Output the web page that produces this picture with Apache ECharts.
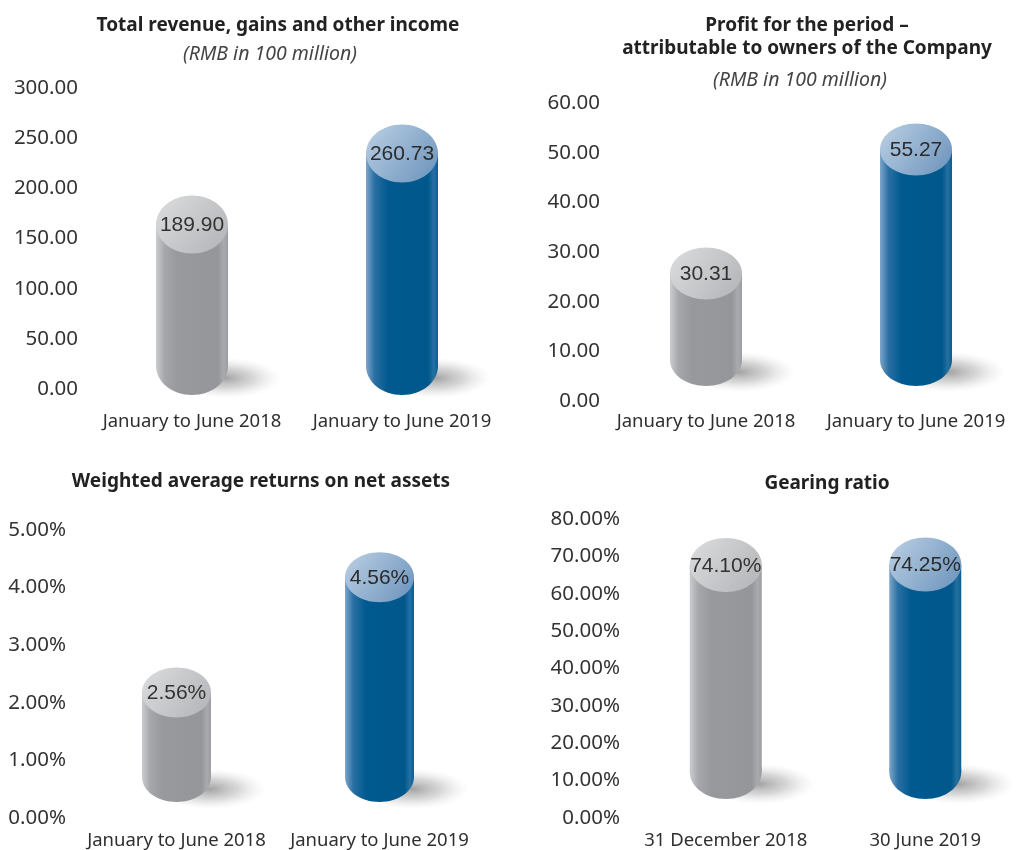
<!DOCTYPE html>
<html>
<head>
<meta charset="utf-8">
<script src="https://cdn.jsdelivr.net/npm/echarts@6/dist/echarts.min.js"></script>
<style>
  html, body { margin: 0; padding: 0; background: #fff; }
  #main { width: 1025px; height: 850px; }
</style>
</head>
<body>
<div id="main"></div>
<script>
// ---- data ----
const periodCats = ['January to June 2018', 'January to June 2019'];
const revenueValues = [189.90, 260.73];
const profitValues = [30.31, 55.27];
const roeValues = [2.56, 4.56];
const gearingCats = ['31 December 2018', '30 June 2019'];
const gearingValues = [74.10, 74.25];

// colours for the two cylinders (first grey, second blue)
const palettes = [
  {
    body: ['#cbcccf', '#a6a7aa', '#98999c', '#95969a', '#a9aaad', '#9c9da0'],
    top: ['#dcdddf', '#b2b3b6'],
    label: '#333333'
  },
  {
    body: ['#7ea6ca', '#2a6fa3', '#005a8f', '#00578b', '#25709f', '#0b5e92'],
    top: ['#bcd0e4', '#6a92bb'],
    label: '#2b2b2b'
  }
];

const FONT = '"Noto Sans", "Open Sans", sans-serif';

const panels = [
  { cats: periodCats, values: revenueValues, max: 300, interval: 50, suffix: '',
    grid: { left: 87, top: 88, width: 420, height: 301 }, yMargin: 9, xMargin: 23,
    barWidth: 72, ry: 29, lift: -6 },
  { cats: periodCats, values: profitValues, max: 60, interval: 10, suffix: '',
    grid: { left: 601, top: 103, width: 420, height: 298 }, yMargin: 1, xMargin: 11,
    barWidth: 72, ry: 26, lift: 15 },
  { cats: periodCats, values: roeValues, max: 5, interval: 1, suffix: '%',
    grid: { left: 75, top: 530, width: 406, height: 288 }, yMargin: 9, xMargin: 13,
    barWidth: 69, ry: 25, lift: 16 },
  { cats: gearingCats, values: gearingValues, max: 80, interval: 10, suffix: '%',
    grid: { left: 626, top: 519, width: 418, height: 299 }, yMargin: 6, xMargin: 13,
    barWidth: 72, ry: 27, lift: 19 }
];

function bodyGradient(stops) {
  const pos = [0, 0.12, 0.3, 0.86, 0.94, 1];
  return new echarts.graphic.LinearGradient(0, 0, 1, 0,
    stops.map((c, i) => ({ offset: pos[i], color: c })));
}

function makeRenderer(p) {
  return function (params, api) {
    const idx = api.value(0);
    const val = api.value(1);
    const top = api.coord([idx, val]);
    const base = api.coord([idx, 0]);
    const cx = top[0];
    const rx = p.barWidth / 2;
    const ry = p.ry;
    const topCy = top[1] - 3 + ry;
    const botCy = base[1] - p.lift - ry;
    const pal = palettes[idx];

    return {
      type: 'group',
      children: [
        // soft floor shadow: a circle squashed vertically
        {
          type: 'circle',
          x: cx + 42,
          y: botCy + 12,
          scaleY: 0.36,
          shape: { cx: 0, cy: 0, r: 56 },
          style: {
            fill: new echarts.graphic.RadialGradient(0.42, 0.5, 0.5, [
              { offset: 0, color: 'rgba(100,100,100,0.6)' },
              { offset: 0.5, color: 'rgba(140,140,140,0.35)' },
              { offset: 1, color: 'rgba(200,200,200,0)' }
            ])
          }
        },
        {
          type: 'ellipse',
          shape: { cx: cx, cy: botCy, rx: rx, ry: ry },
          style: { fill: bodyGradient(pal.body) }
        },
        {
          type: 'rect',
          shape: { x: cx - rx, y: topCy, width: rx * 2, height: Math.max(botCy - topCy, 0) },
          style: { fill: bodyGradient(pal.body) }
        },
        {
          type: 'ellipse',
          shape: { cx: cx, cy: topCy, rx: rx, ry: ry },
          style: {
            fill: new echarts.graphic.LinearGradient(0, 0, 1, 1, [
              { offset: 0, color: pal.top[0] },
              { offset: 1, color: pal.top[1] }
            ])
          }
        },
        {
          type: 'text',
          style: {
            text: val.toFixed(2) + p.suffix,
            x: cx, y: topCy + 1,
            align: 'center', verticalAlign: 'middle',
            font: '21px "Liberation Sans", Arial, sans-serif',
            fill: pal.label
          }
        }
      ]
    };
  };
}

const chart = echarts.init(document.getElementById('main'), null, { renderer: 'canvas' });

const titleStyle = { fontFamily: FONT, fontWeight: 'bold', fontSize: 19, color: '#222', lineHeight: 23 };
const subStyle = { fontFamily: FONT, fontStyle: 'italic', fontWeight: 'normal', fontSize: 19.5, color: '#444', lineHeight: 23 };

const option = {
  backgroundColor: '#fff',
  animation: false,
  title: [
    { text: 'Total revenue, gains and other income', left: 278, top: 14.5, padding: 0, textAlign: 'center', textStyle: titleStyle },
    { text: '(RMB in 100 million)', left: 270, top: 42.5, padding: 0, textAlign: 'center', textStyle: subStyle },
    { text: 'Profit for the period –\nattributable to owners of the Company', left: 807, top: 14.5, padding: 0, textAlign: 'center', textStyle: titleStyle },
    { text: '(RMB in 100 million)', left: 800, top: 68.5, padding: 0, textAlign: 'center', textStyle: subStyle },
    { text: 'Weighted average returns on net assets', left: 261, top: 470.5, padding: 0, textAlign: 'center', textStyle: titleStyle },
    { text: 'Gearing ratio', left: 827, top: 472.5, padding: 0, textAlign: 'center', textStyle: titleStyle }
  ],
  grid: panels.map(p => Object.assign({ containLabel: false }, p.grid)),
  xAxis: panels.map((p, i) => ({
    type: 'category',
    gridIndex: i,
    data: p.cats,
    axisLine: { show: false },
    axisTick: { show: false },
    splitLine: { show: false },
    axisLabel: { margin: p.xMargin, fontFamily: FONT, fontSize: 18.5, color: '#2f2f2f', interval: 0 }
  })),
  yAxis: panels.map((p, i) => ({
    type: 'value',
    gridIndex: i,
    min: 0,
    max: p.max,
    interval: p.interval,
    axisLine: { show: false },
    axisTick: { show: false },
    splitLine: { show: false },
    axisLabel: {
      margin: p.yMargin,
      fontFamily: FONT,
      fontSize: 20.5,
      color: '#333',
      formatter: v => v.toFixed(2) + p.suffix
    }
  })),
  series: panels.map((p, i) => ({
    type: 'custom',
    xAxisIndex: i,
    yAxisIndex: i,
    renderItem: makeRenderer(p),
    encode: { x: 0, y: 1 },
    data: p.values.map((v, k) => [k, v]),
    clip: false
  }))
};

chart.setOption(option);
</script>
</body>
</html>
